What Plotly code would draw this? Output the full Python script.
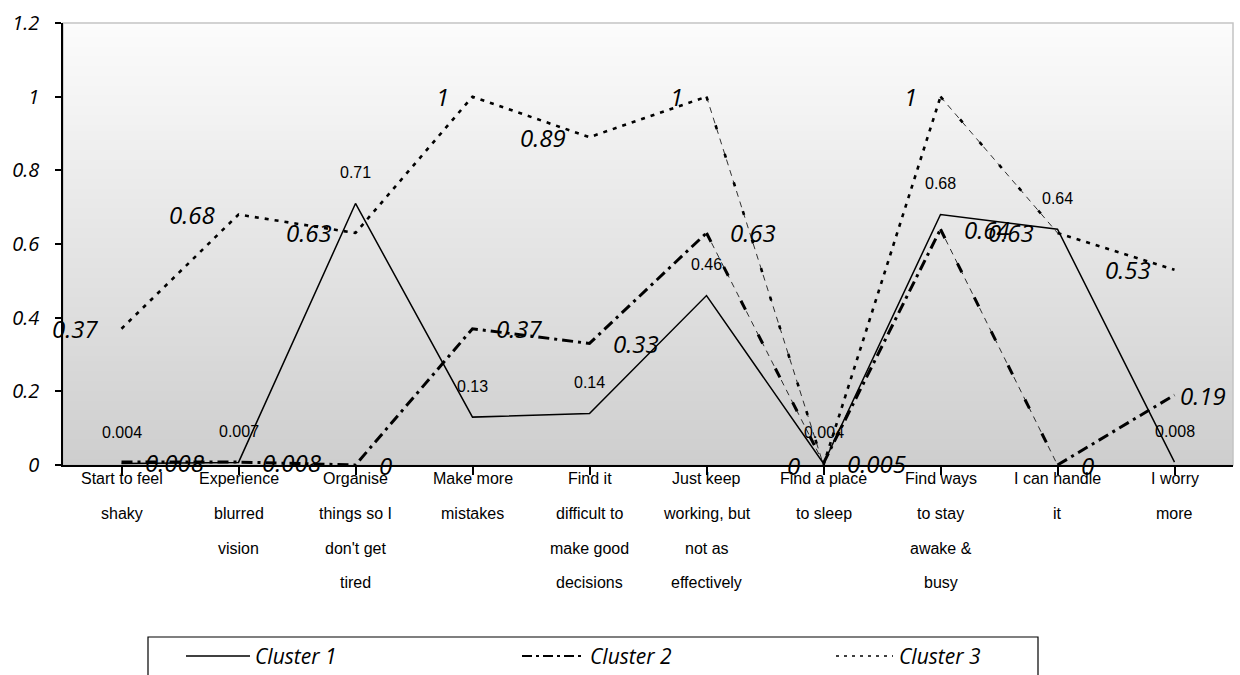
import plotly.graph_objects as go

# Response categories (line breaks follow the axis label wrapping)
categories = [
    "Start to feel<br>shaky",
    "Experience<br>blurred<br>vision",
    "Organise<br>things so I<br>don't get<br>tired",
    "Make more<br>mistakes",
    "Find it<br>difficult to<br>make good<br>decisions",
    "Just keep<br>working, but<br>not as<br>effectively",
    "Find a place<br>to sleep",
    "Find ways<br>to stay<br>awake &<br>busy",
    "I can handle<br>it",
    "I worry<br>more",
]

cluster1 = [0.004, 0.007, 0.71, 0.13, 0.14, 0.46, 0.004, 0.68, 0.64, 0.008]
cluster2 = [0.008, 0.008, 0, 0.37, 0.33, 0.63, 0.005, 0.64, 0, 0.19]
cluster3 = [0.37, 0.68, 0.63, 1, 0.89, 1, 0, 1, 0.63, 0.53]

cluster1_labels = ["0.004", "0.007", "0.71", "0.13", "0.14", "0.46", "0.004", "0.68", "0.64", "0.008"]
cluster2_labels = ["0.008", "0.008", "0", "0.37", "0.33", "0.63", "0.005", "0.64", "0", "0.19"]
cluster3_labels = ["0.37", "0.68", "0.63", "1", "0.89", "1", "0", "1", "0.63", "0.53"]

series_names = ["Cluster 1", "Cluster 2", "Cluster 3"]
y_ticks = [0, 0.2, 0.4, 0.6, 0.8, 1, 1.2]

# Segments (start index) drawn with a light dashed stroke
light_segments = [5, 7]

# ---- page geometry (pixels) ----
W, H = 1240, 675
ML, MR, MT, MB = 63, 7, 23, 210
PW, PH = W - ML - MR, H - MT - MB


def px_x(px):
    return (px - ML) / PW


def px_y(py):
    return (H - MB - py) / PH


ITALIC = "Open Sans"
x = list(range(len(categories)))

fig = go.Figure()

C2_DASH = "11px,5px,3px,5px"
C3_DASH = "4px,6px"


def add_line(xs, ys, width, dash, opacity=1.0):
    fig.add_trace(go.Scatter(
        x=xs, y=ys, mode="lines", showlegend=False, hoverinfo="skip",
        line=dict(color="black", width=width, dash=dash), opacity=opacity,
    ))


def split_runs(values):
    """Split a series into runs of ordinary segments and the light ones."""
    runs, cur = [], [0]
    for i in range(len(values) - 1):
        if i in light_segments:
            if len(cur) > 1:
                runs.append(("main", cur))
            runs.append(("light", [i, i + 1]))
            cur = [i + 1]
        else:
            cur.append(i + 1)
    if len(cur) > 1:
        runs.append(("main", cur))
    return runs


# Cluster 1: plain solid line
add_line(x, cluster1, 1.5, "solid")

# Cluster 2 and 3: heavy dash patterns, lighter strokes on the falling segments
for values, dash, w, sparse in [
    (cluster2, C2_DASH, 3, "10px,28px"),
    (cluster3, C3_DASH, 2.6, "4px,26px"),
]:
    for kind, idx in split_runs(values):
        xs = [x[i] for i in idx]
        ys = [values[i] for i in idx]
        if kind == "main":
            add_line(xs, ys, w, dash)
        else:
            add_line(xs, ys, 0.8, "6px,5px")
            add_line(xs, ys, w, sparse)

# ---- data labels ----
for i in x:
    fig.add_annotation(x=i, y=cluster1[i], text=cluster1_labels[i], showarrow=False,
                       xanchor="center", yanchor="middle", yshift=31,
                       font=dict(family="Liberation Sans, Arial", size=16, color="black"))
    last = i == len(x) - 1
    fig.add_annotation(x=i, y=cluster2[i], text=cluster2_labels[i], showarrow=False,
                       xanchor="left", yanchor="middle", xshift=3 if last else 21,
                       font=dict(family=ITALIC, size=24, color="black", style="italic"))
    fig.add_annotation(x=i, y=cluster3[i], text=cluster3_labels[i], showarrow=False,
                       xanchor="right", yanchor="middle", xshift=-22,
                       font=dict(family=ITALIC, size=24, color="black", style="italic"))

# ---- category labels, one annotation per wrapped line ----
LINE_Y = [479, 513, 548, 582]
for i, cat in enumerate(categories):
    for j, part in enumerate(cat.split("<br>")):
        fig.add_annotation(x=i, xref="x", y=px_y(LINE_Y[j]), yref="paper",
                           text=part, showarrow=False, xanchor="center", yanchor="middle",
                           font=dict(family="Liberation Sans Narrow, Arial Narrow, Liberation Sans",
                                     size=16, color="black"))

# ---- gradient plot background ----
shapes = []
N = 90
top, bottom = (252, 252, 252), (206, 206, 206)
for k in range(N):
    t = (k + 0.5) / N
    c = tuple(round(top[m] + (bottom[m] - top[m]) * t) for m in range(3))
    shapes.append(dict(type="rect", xref="x domain", yref="y domain",
                       x0=0, x1=1, y0=1 - (k + 1) / N, y1=1 - k / N + 0.002,
                       fillcolor="rgb(%d,%d,%d)" % c, line=dict(width=0), layer="below"))
shapes.append(dict(type="rect", xref="x domain", yref="y domain", x0=0, x1=1, y0=0, y1=1,
                   line=dict(color="#c4c4c4", width=1.5), fillcolor="rgba(0,0,0,0)", layer="below"))

# ---- legend box ----
LEG_Y = 656
shapes.append(dict(type="rect", xref="paper", yref="paper",
                   x0=px_x(148), x1=px_x(1038), y0=px_y(690), y1=px_y(637),
                   line=dict(color="black", width=1.2), fillcolor="white"))
legend_items = [
    (series_names[0], 186, 250, 253, "solid", 1.5),
    (series_names[1], 522, 585, 588, "10px,4px,3px,4px", 1.8),
    (series_names[2], 836, 893, 897, "3px,5px", 1.6),
]
for name, x0, x1, tx, dash, w in legend_items:
    shapes.append(dict(type="line", xref="paper", yref="paper",
                       x0=px_x(x0), x1=px_x(x1), y0=px_y(LEG_Y), y1=px_y(LEG_Y),
                       line=dict(color="black", width=w, dash=dash)))
    fig.add_annotation(x=px_x(tx), y=px_y(LEG_Y), xref="paper", yref="paper", text=name,
                       showarrow=False, xanchor="left", yanchor="middle",
                       font=dict(family=ITALIC, size=21, color="black", style="italic"))

fig.update_layout(
    width=W, height=H,
    margin=dict(l=ML, r=MR, t=MT, b=MB),
    paper_bgcolor="white", plot_bgcolor="rgba(0,0,0,0)",
    shapes=shapes, showlegend=False,
)
fig.update_xaxes(
    range=[-0.5, len(categories) - 0.5], tickmode="array", tickvals=x,
    ticktext=[""] * len(x), tickson="boundaries", ticks="outside", ticklen=8,
    tickcolor="black", tickwidth=1.5, showline=True, linecolor="black", linewidth=1.5,
    showgrid=False, zeroline=False,
)
fig.update_yaxes(
    range=[0, 1.2], tickmode="array", tickvals=y_ticks,
    ticktext=["%g" % v for v in y_ticks], ticks="outside", ticklen=6,
    tickcolor="black", tickwidth=1.5, showline=True, linecolor="black", linewidth=1.5,
    showgrid=False, zeroline=False, ticklabelstandoff=12,
    tickfont=dict(family=ITALIC, size=20, color="black", style="italic"),
)

fig.write_html("out.html")
